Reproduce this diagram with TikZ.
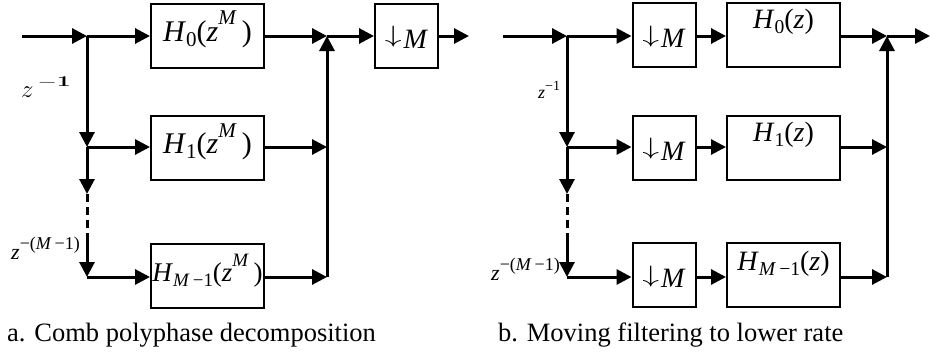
\documentclass[tikz,border=0pt]{standalone}
\usepackage[no-math]{fontspec}
\setmainfont{Liberation Serif}
\usetikzlibrary{arrows.meta}
\newcommand\fsz[1]{\fontsize{#1}{#1}\selectfont}
\newcommand\Sb[1]{\raisebox{-0.18em}{\scalebox{0.7}{#1}}}
\newcommand\Sp[1]{\raisebox{0.55em}{\scalebox{0.7}{#1}}}
\newcommand\dnM{\raisebox{0.185em}{\scalebox{1.35}[0.95]{$\downarrow$}}\kern2pt\textit{M}}
\begin{document}
\begin{tikzpicture}[x=1pt,y=-1pt,
  conn/.style={line width=3pt,-{Triangle[length=15pt,width=15pt]}},
  wire/.style={line width=3pt},
  blk/.style={draw,line width=2pt,minimum width=113pt,minimum height=64pt,inner sep=0pt},
  dec/.style={draw,line width=2pt,minimum width=63pt,minimum height=64pt,inner sep=0pt},
  htxt/.style={font=\fsz{30},text height=20pt,text depth=8pt},
  btxt/.style={inner sep=0pt,anchor=base,font=\fsz{28}},
  dtxt/.style={font=\fsz{28},text height=25pt,text depth=0pt},
  lbl/.style={inner sep=0pt,anchor=base west},
  captxt/.style={inner sep=0pt,anchor=base west,font=\fsz{26.5}}]
\useasboundingbox (0,0) rectangle (931,356);
% ---------- part a ----------
\coordinate (ina) at (22,36);
\coordinate (ja1) at (87,36);
\coordinate (ja2) at (87,147);
\coordinate (ja3) at (87,277);
\coordinate (da1) at (87,194);
\coordinate (da2) at (87,237);
\node[blk,htxt] (H0a) at (207.5,35.5) {\textit{H}\Sb{0}(\textit{z}\Sp{\textit{M}}\,)};
\node[blk,htxt] (H1a) at (207.5,147.5) {\textit{H}\Sb{1}(\textit{z}\Sp{\textit{M}}\,)};
\node[blk,htxt,font=\fsz{27}] (HMa) at (207.5,275.5) {\textit{H}\Sb{\textit{M}\,−1}(\textit{z}\Sp{\textit{M}}\,)};
\coordinate (sa1) at (327,36);
\coordinate (sa2) at (327,147);
\coordinate (sa3) at (327,277);
\node[dec,dtxt] (dMa) at (406.5,35.5) {\dnM};
\coordinate (outa) at (469,36);
\draw[conn] (ina) -- (ja1);
\draw[conn] (ja1) -- (H0a.west|-ja1);
\draw[conn] (ja1) -- (ja2);
\draw[conn] (ja2) -- (H1a.west|-ja2);
\draw[conn] (ja2) -- (da1);
\draw[wire,dash pattern=on 8pt off 5pt] (da1) -- (da2);
\draw[conn] (da2) -- (ja3);
\draw[conn] (ja3) -- (HMa.west|-ja3);
\draw[conn] (H0a.east|-sa1) -- (sa1);
\draw[conn] (H1a.east|-sa2) -- (sa2);
\draw[conn] (HMa.east|-sa3) -- (sa3);
\draw[conn] (sa3) -- (sa1);
\draw[conn] (sa1) -- (dMa.west|-sa1);
\draw[conn] (dMa.east|-outa) -- (outa);
\node[lbl] (za1) at (21,97) {{\fsz{28}$z$}\kern4pt\raisebox{10.5pt}{\scalebox{1}[0.6]{\fsz{26}$\mathbf{-1}$}}};
\node[lbl,font=\fsz{22}] (zaM) at (11,259) {\textit{z}\raisebox{10pt}{\fsz{18}−(\textit{M}\,−1)}};
\node[captxt] (capa) at (7,341) {a. Comb polyphase decomposition};
% ---------- part b ----------
\coordinate (inb) at (503,36);
\coordinate (jb1) at (567,36);
\coordinate (jb2) at (567,147);
\coordinate (jb3) at (567,277);
\coordinate (db1) at (567,194);
\coordinate (db2) at (567,237);
\node[dec,dtxt] (dMb1) at (664,35) {\dnM};
\node[dec,dtxt] (dMb2) at (664,147.5) {\dnM};
\node[dec,dtxt] (dMb3) at (664,275) {\dnM};
\node[blk] (H0b) at (783.5,35) {};
\node[blk] (H1b) at (783.5,147.5) {};
\node[blk] (HMb) at (783.5,275) {};
\node[btxt] (tH0b) at ([yshift=-26pt]H0b.north) {\textit{H}\Sb{0}(\textit{z})};
\node[btxt] (tH1b) at ([yshift=-27pt]H1b.north) {\textit{H}\Sb{1}(\textit{z})};
\node[btxt] (tHMb) at ([yshift=-28pt]HMb.north) {\textit{H}\Sb{\textit{M}\,−1}(\textit{z})};
\coordinate (sb1) at (887,36);
\coordinate (sb2) at (887,147);
\coordinate (sb3) at (887,277);
\coordinate (outb) at (930,36);
\draw[conn] (inb) -- (jb1);
\draw[conn] (jb1) -- (dMb1.west|-jb1);
\draw[conn] (jb1) -- (jb2);
\draw[conn] (jb2) -- (dMb2.west|-jb2);
\draw[conn] (jb2) -- (db1);
\draw[wire,dash pattern=on 8pt off 5pt] (db1) -- (db2);
\draw[conn] (db2) -- (jb3);
\draw[conn] (jb3) -- (dMb3.west|-jb3);
\draw[conn] (dMb1.east|-jb1) -- (H0b.west|-jb1);
\draw[conn] (dMb2.east|-jb2) -- (H1b.west|-jb2);
\draw[conn] (dMb3.east|-jb3) -- (HMb.west|-jb3);
\draw[conn] (H0b.east|-sb1) -- (sb1);
\draw[conn] (H1b.east|-sb2) -- (sb2);
\draw[conn] (HMb.east|-sb3) -- (sb3);
\draw[conn] (sb3) -- (sb1);
\draw[conn] (sb1) -- (outb);
\node[lbl,font=\fsz{18}] (zb1) at (538,98) {\textit{z}\raisebox{8pt}{\fsz{14}−1}};
\node[lbl,font=\fsz{22}] (zbM) at (491,280) {\textit{z}\raisebox{10pt}{\fsz{18}−(\textit{M}\,−1)}};
\node[captxt] (capb) at (498,341) {b. Moving filtering to lower rate};
\end{tikzpicture}
\end{document}
